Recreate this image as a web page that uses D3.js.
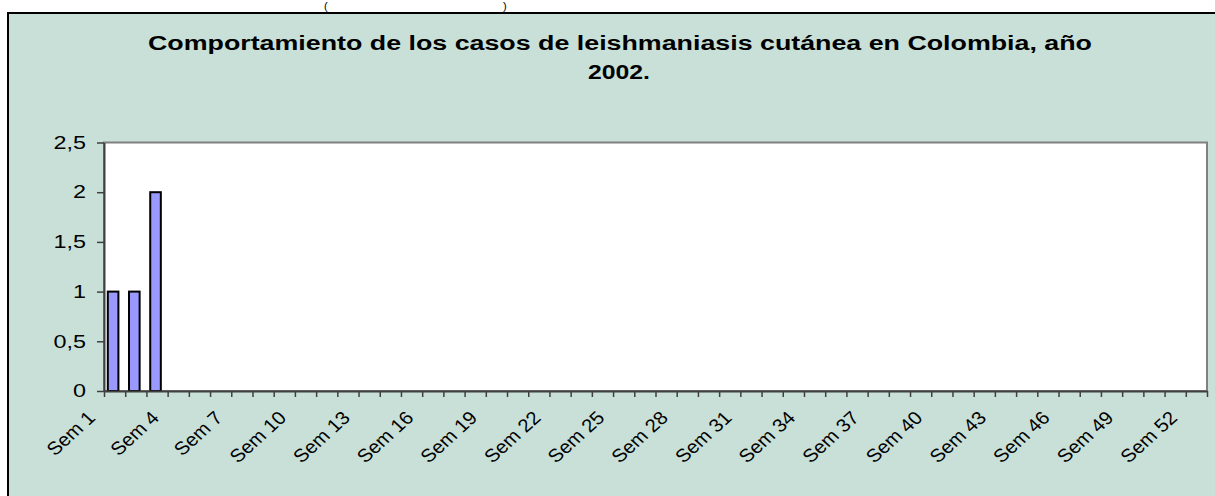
<!DOCTYPE html>
<html>
<head>
<meta charset="utf-8">
<script src="https://cdn.jsdelivr.net/npm/d3@7"></script>
<style>
body { margin: 0; background: #fff; }
svg { display: block; font-family: "Liberation Sans", Arial, sans-serif; }
</style>
</head>
<body>
<div id="chart"></div>
<script>
// data
const weeks = ["Sem 1","Sem 2","Sem 3","Sem 4","Sem 5","Sem 6","Sem 7","Sem 8","Sem 9","Sem 10",
    "Sem 11","Sem 12","Sem 13","Sem 14","Sem 15","Sem 16","Sem 17","Sem 18","Sem 19","Sem 20",
    "Sem 21","Sem 22","Sem 23","Sem 24","Sem 25","Sem 26","Sem 27","Sem 28","Sem 29","Sem 30",
    "Sem 31","Sem 32","Sem 33","Sem 34","Sem 35","Sem 36","Sem 37","Sem 38","Sem 39","Sem 40",
    "Sem 41","Sem 42","Sem 43","Sem 44","Sem 45","Sem 46","Sem 47","Sem 48","Sem 49","Sem 50",
    "Sem 51","Sem 52"];
const cases = [1, 1, 2, 0, 0, 0, 0, 0, 0, 0,
    0, 0, 0, 0, 0, 0, 0, 0, 0, 0,
    0, 0, 0, 0, 0, 0, 0, 0, 0, 0,
    0, 0, 0, 0, 0, 0, 0, 0, 0, 0,
    0, 0, 0, 0, 0, 0, 0, 0, 0, 0,
    0, 0];
const yTicks = [0, 0.5, 1, 1.5, 2, 2.5];
const labelWeeks = ["Sem 1","Sem 4","Sem 7","Sem 10","Sem 13","Sem 16","Sem 19","Sem 22","Sem 25",
    "Sem 28","Sem 31","Sem 34","Sem 37","Sem 40","Sem 43","Sem 46","Sem 49","Sem 52"];
const titleLines = ["Comportamiento de los casos de leishmaniasis cutánea en Colombia, año", "2002."];

var width = 1215, height = 496;
var plot = { left: 104, right: 1207, top: 142.5, bottom: 391 };

var svg = d3.select("#chart").append("svg")
    .attr("width", width)
    .attr("height", height);

// bits of the page text above the chart
svg.append("text").attr("x", 324).attr("y", 10).attr("font-size", 11).text("(");
svg.append("text").attr("x", 503).attr("y", 10).attr("font-size", 11).text(")");

// chart area
svg.append("rect")
    .attr("x", 8).attr("y", 13)
    .attr("width", 1230).attr("height", 500)
    .attr("fill", "#c9e0d8")
    .attr("stroke", "#000")
    .attr("stroke-width", 2);

// title
svg.append("text")
    .attr("x", 148).attr("y", 50)
    .attr("font-size", 20).attr("font-weight", "bold")
    .attr("textLength", 944).attr("lengthAdjust", "spacingAndGlyphs")
    .text(titleLines[0]);
svg.append("text")
    .attr("x", 588).attr("y", 79)
    .attr("font-size", 20).attr("font-weight", "bold")
    .attr("textLength", 62).attr("lengthAdjust", "spacingAndGlyphs")
    .text(titleLines[1]);

// plot area
svg.append("rect")
    .attr("x", plot.left).attr("y", plot.top)
    .attr("width", plot.right - plot.left).attr("height", plot.bottom - plot.top)
    .attr("fill", "#fff")
    .attr("stroke", "#808080")
    .attr("stroke-width", 2);

var xCat = d3.scaleBand().domain(weeks).range([plot.left, plot.right]);
var xBar = d3.scaleBand().domain(weeks).range([plot.left, plot.right])
    .paddingInner(0.5).paddingOuter(0.25);
var xIdx = d3.scaleLinear().domain([0, weeks.length]).range([plot.left, plot.right]);
var y = d3.scaleLinear().domain([0, 2.5]).range([plot.bottom, plot.top]);

var esFormat = d3.formatLocale({ decimal: ",", thousands: ".", grouping: [3], currency: ["$", ""] }).format(".1~f");

// bars
svg.selectAll(".bar")
    .data(cases.map(function (v, i) { return { week: weeks[i], value: v }; }).filter(function (d) { return d.value > 0; }))
    .enter().append("rect")
    .attr("class", "bar")
    .attr("x", function (d) { return xBar(d.week) - 1.5; })
    .attr("width", xBar.bandwidth())
    .attr("y", function (d) { return y(d.value); })
    .attr("height", function (d) { return plot.bottom - y(d.value); })
    .attr("fill", "#9999ff")
    .attr("stroke", "#000")
    .attr("stroke-width", 2);

// y axis
var yAxis = svg.append("g")
    .attr("transform", "translate(" + plot.left + ",0)")
    .call(d3.axisLeft(y).tickValues(yTicks).tickFormat(esFormat).tickSize(7).tickSizeOuter(0));
yAxis.select(".domain").attr("stroke", "#404040").attr("stroke-width", 2);
yAxis.selectAll(".tick line").attr("stroke", "#404040").attr("stroke-width", 1.5);
yAxis.selectAll(".tick text")
    .attr("x", 0)
    .attr("transform", "translate(-18,0) scale(1.3,1)")
    .attr("font-size", 18)
    .attr("font-family", "Liberation Sans, Arial, sans-serif")
    .attr("fill", "#000");

// x axis, ticks between categories
var xAxis = svg.append("g")
    .attr("transform", "translate(0," + plot.bottom + ")")
    .call(d3.axisBottom(xIdx).tickValues(d3.range(0, weeks.length + 1)).tickFormat("").tickSize(6).tickSizeOuter(0));
xAxis.select(".domain").attr("stroke", "#404040").attr("stroke-width", 2);
xAxis.selectAll(".tick line").attr("stroke", "#404040").attr("stroke-width", 1.5);

svg.selectAll(".xlabel")
    .data(labelWeeks)
    .enter().append("text")
    .attr("class", "xlabel")
    .attr("transform", function (d) {
        var cx = xCat(d) + xCat.bandwidth() / 2;
        return "translate(" + (cx - 18) + ",419) scale(1.1,1) rotate(-45)";
    })
    .attr("text-anchor", "end")
    .attr("font-size", 18.5)
    .text(function (d) { return d; });
</script>
</body>
</html>
